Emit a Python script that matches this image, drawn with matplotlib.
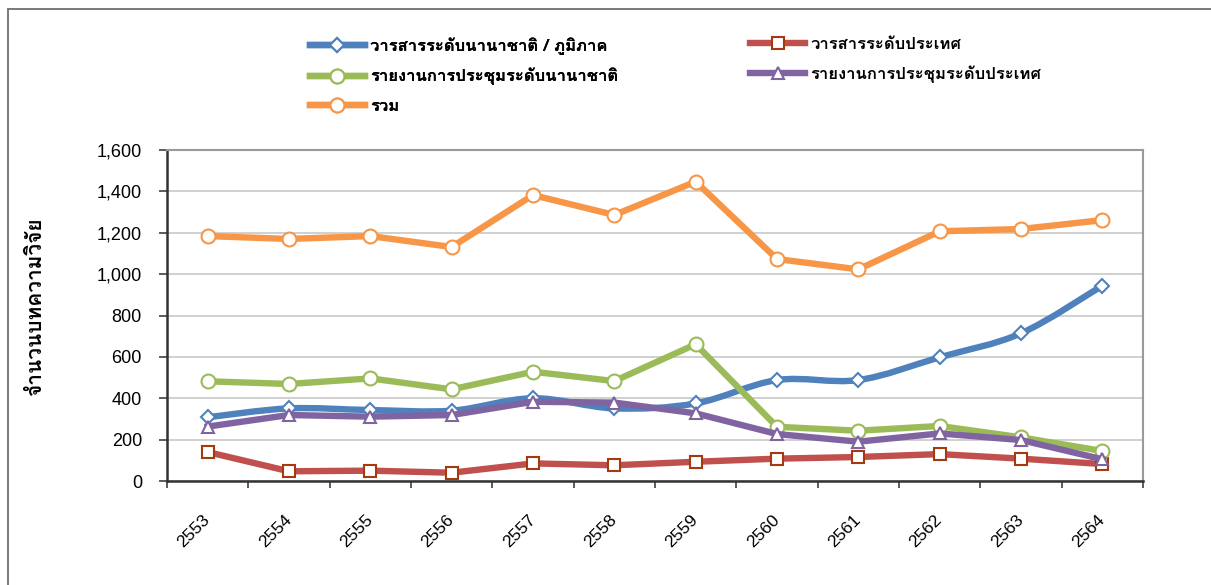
import matplotlib
matplotlib.use("Agg")
import matplotlib.pyplot as plt
from matplotlib import font_manager
from matplotlib.ft2font import FT2Font
from matplotlib.path import Path
from matplotlib.patches import PathPatch, Rectangle
from matplotlib.lines import Line2D
from matplotlib.ticker import FuncFormatter
from matplotlib.transforms import ScaledTranslation

years = ["2553", "2554", "2555", "2556", "2557", "2558",
         "2559", "2560", "2561", "2562", "2563", "2564"]
journal_intl = [308, 351, 343, 340, 400, 351, 375, 488, 488, 598, 714, 944]
journal_natl = [140, 47, 50, 40, 85, 76, 93, 108, 116, 130, 108, 82]
conf_intl = [482, 469, 496, 443, 528, 483, 661, 262, 243, 266, 211, 145]
conf_natl = [263, 319, 311, 319, 383, 379, 327, 227, 190, 230, 198, 105]
total = [1184, 1170, 1184, 1131, 1382, 1286, 1447, 1073, 1023, 1207, 1218, 1261]

names = ["วารสารระดับนานาชาติ / ภูมิภาค", "วารสารระดับประเทศ",
         "รายงานการประชุมระดับนานาชาติ", "รายงานการประชุมระดับประเทศ", "รวม"]


# pick an installed family that actually has Thai glyphs
def find_thai_font():
    for f in font_manager.fontManager.ttflist:
        try:
            if ord("ว") in FT2Font(f.fname).get_charmap():
                return f.name
        except Exception:
            pass
    return "DejaVu Sans"


thai_font = find_thai_font()
plt.rcParams["font.family"] = [thai_font, "DejaVu Sans"]
num_font = "Liberation Sans"

fig = plt.figure(figsize=(12.11, 5.85), dpi=100)
ax = fig.add_axes([167 / 1211, 1 - 481 / 585, (1143 - 167) / 1211, (481 - 150) / 585])

x = list(range(len(years)))


def smooth_path(xs, ys):
    # cubic bezier through the points (Catmull-Rom style smoothing)
    verts = [(xs[0], ys[0])]
    codes = [Path.MOVETO]
    n = len(xs)
    for i in range(n - 1):
        p0 = (xs[max(i - 1, 0)], ys[max(i - 1, 0)])
        p1 = (xs[i], ys[i])
        p2 = (xs[i + 1], ys[i + 1])
        p3 = (xs[min(i + 2, n - 1)], ys[min(i + 2, n - 1)])
        c1 = (p1[0] + (p2[0] - p0[0]) / 6, p1[1] + (p2[1] - p0[1]) / 6)
        c2 = (p2[0] - (p3[0] - p1[0]) / 6, p2[1] - (p3[1] - p1[1]) / 6)
        verts += [c1, c2, p2]
        codes += [Path.CURVE4] * 3
    return Path(verts, codes)


lw = 4.6
styles = [
    (journal_intl, "#4F81BD", "D", "#4F81BD", 7.5, True),
    (journal_natl, "#C0504D", "s", "#A33A10", 8, False),
    (conf_intl, "#9BBB59", "o", "#9BBB59", 10, False),
    (conf_natl, "#8064A2", "^", "#8064A2", 9, False),
    (total, "#F79646", "o", "#F79646", 10, False),
]

handles = []
for z, (vals, col, mk, mec, ms, smooth) in enumerate(styles):
    if smooth:
        ax.add_patch(PathPatch(smooth_path(x, vals), fill=False, edgecolor=col,
                               lw=lw, capstyle="round", joinstyle="round", zorder=3 + z))
        ax.plot(x, vals, ls="none", marker=mk, ms=ms, mfc="white", mec=mec,
                mew=1.5, zorder=3 + z)
    else:
        ax.plot(x, vals, color=col, lw=lw, marker=mk, ms=ms, mfc="white",
                mec=mec, mew=1.5, solid_joinstyle="round", zorder=3 + z)
    handles.append(Line2D([], [], color=col, lw=lw, marker=mk, ms=ms,
                          mfc="white", mec=mec, mew=1.5))

ax.set_xlim(-0.5, len(years) - 0.5)
ax.set_ylim(0, 1600)
ax.set_yticks(range(0, 1601, 200))
ax.yaxis.set_major_formatter(FuncFormatter(lambda v, p: f"{int(v):,}"))
ax.set_xticks(x)
ax.set_xticklabels(years, rotation=45, rotation_mode="anchor", ha="right",
                   va="center", fontsize=12.5, family=num_font)
shift = ScaledTranslation(8 / 72, 0, fig.dpi_scale_trans)
for lab in ax.get_xticklabels():
    lab.set_transform(lab.get_transform() + shift)
ax.set_xticks([i - 0.5 for i in range(len(years) + 1)], minor=True)
ax.tick_params(axis="x", which="major", length=0, pad=26)
ax.tick_params(axis="x", which="minor", length=5, width=1.2, color="#404040")
ax.tick_params(axis="y", length=6, width=1.2, color="#404040", labelsize=13, pad=12)
for lab in ax.get_yticklabels():
    lab.set_family(num_font)

ax.grid(axis="y", color="#C4C4C4", lw=1.1)
ax.set_axisbelow(True)
for s in ["top", "right"]:
    ax.spines[s].set_color("#9A9A9A")
    ax.spines[s].set_linewidth(1.5)
for s in ["left", "bottom"]:
    ax.spines[s].set_color("#333333")
    ax.spines[s].set_linewidth(1.8)

ax.set_ylabel("จำนวนบทความวิจัย", fontsize=15, fontweight="bold")
ax.yaxis.set_label_coords(-0.125, 0.53)

# two legend columns placed side by side
leg_kw = dict(loc="upper left", frameon=False, borderpad=0, borderaxespad=0,
              handlelength=3.3, handletextpad=0.3, labelspacing=0.8,
              prop={"weight": "bold", "size": 12})
leg_top = 1 - 37 / 585
leg1 = fig.legend([handles[i] for i in (0, 2, 4)], [names[i] for i in (0, 2, 4)],
                  bbox_to_anchor=(310 / 1211, leg_top), **leg_kw)
fig.legend([handles[i] for i in (1, 3)], [names[i] for i in (1, 3)],
           bbox_to_anchor=(750 / 1211, leg_top), **leg_kw)
fig.add_artist(leg1)

# chart area border
fig.patches.append(Rectangle((7.5 / 1211, -0.1), 1.1, 1.1 - 9 / 585,
                             transform=fig.transFigure, fill=False,
                             edgecolor="#6E6E6E", lw=1.3))

fig.savefig("out.png", dpi=100)
